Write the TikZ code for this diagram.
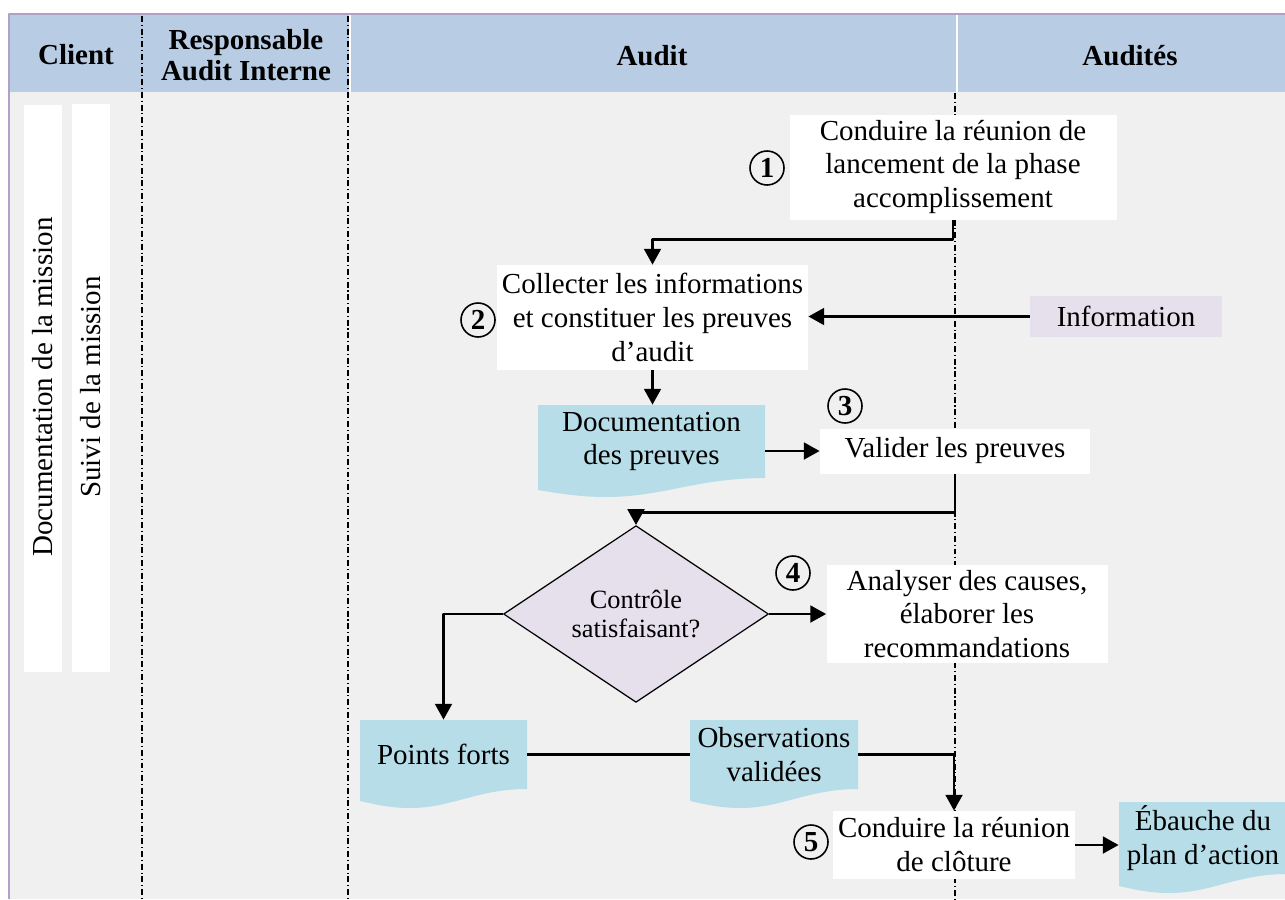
\documentclass[tikz,border=0pt]{standalone}
\usepackage{fontspec}
\setmainfont{Liberation Serif}
\usetikzlibrary{arrows.meta,shapes.geometric}

% document shape with a wavy bottom edge
\newcommand{\docshape}[4]{%
\begin{scope}[shift={(#1,#2)}]
\path[fill=docblue]
({-#3/2},{#4/2}) -- ({#3/2},{#4/2}) -- ({#3/2},{-#4/2})
.. controls ({0.2*#3},{-#4/2}) and ({0.05*#3},{-#4/2-0.38}) .. ({-0.2*#3},{-#4/2-0.38})
.. controls ({-0.32*#3},{-#4/2-0.38}) and ({-0.42*#3},{-#4/2-0.30}) .. ({-#3/2},{-#4/2-0.24})
-- cycle;
\end{scope}
}

\begin{document}
\begin{tikzpicture}[
    every node/.style={font=\fontsize{16.5}{19.3}\selectfont},
    line join=round,
    taskbox/.style={fill=white, align=center, inner sep=0pt},
    docbox/.style={align=center, inner sep=0pt},
    numcirc/.style={circle, draw=black, line width=0.9pt, minimum size=0.68cm,
        inner sep=0pt, font=\fontsize{16.5}{19.3}\selectfont\bfseries},
    headtext/.style={align=center, font=\fontsize{16.5}{17.8}\selectfont\bfseries},
    lane/.style={line width=0.9pt, dash pattern=on 3.4pt off 1.6pt on 0.6pt off 1.6pt},
    flow/.style={line width=1.6pt, -{Triangle[width=9.5pt,length=9pt]}}
]

% Colors
\definecolor{headblue}{RGB}{184,204,228}
\definecolor{bodygray}{RGB}{240,240,240}
\definecolor{framepurple}{RGB}{178,161,199}
\definecolor{docblue}{RGB}{183,221,232}
\definecolor{lavender}{RGB}{229,224,236}

\useasboundingbox (0,0) rectangle (25.7,-17.98);

% ----------------------------------------------------
% Swimlane frame and header
% ----------------------------------------------------
\fill[bodygray] (0.18,-1.84) rectangle (25.7,-17.98);
\fill[headblue] (0.18,-0.28) rectangle (25.7,-1.84);
\draw[white, line width=1.2pt] (7.0,-0.3) -- (7.0,-1.84);
\draw[white, line width=1.4pt] (19.14,-0.3) -- (19.14,-1.84);

\draw[framepurple, line width=1.5pt] (0.18,-17.98) -- (0.18,-0.28) -- (25.7,-0.28);

\draw[lane] (2.84,-0.32) -- (2.84,-17.98);
\draw[lane] (6.96,-0.32) -- (6.96,-17.98);
\draw[lane] (19.10,-1.86) -- (19.10,-17.98);

\node[headtext] (hclient) at (1.52,-1.10) {Client};
\node[headtext] (hresp) at (4.92,-1.10) {Responsable\\Audit Interne};
\node[headtext] (haudit) at (13.04,-1.12) {Audit};
\node[headtext] (haudites) at (22.6,-1.12) {Audités};

% ----------------------------------------------------
% Client column bars
% ----------------------------------------------------
\fill[white] (0.48,-2.10) rectangle (1.24,-13.44);
\fill[white] (1.44,-2.08) rectangle (2.20,-13.44);
\node[rotate=90] (bardoc) at (0.86,-7.74) {Documentation de la mission};
\node[rotate=90] (barsuivi) at (1.82,-7.74) {Suivi de la mission};

% ----------------------------------------------------
% Documents
% ----------------------------------------------------
\docshape{13.03}{-8.83}{4.54}{1.46}
\docshape{8.87}{-15.09}{3.34}{1.38}
\docshape{15.48}{-15.09}{3.36}{1.38}
\docshape{24.06}{-16.76}{3.36}{1.44}

\node[docbox, minimum width=4.54cm, minimum height=1.46cm] (docpreuves) at (13.03,-8.83)
    {Documentation\\des preuves};
\node[docbox, minimum width=3.34cm, minimum height=1.38cm] (forts) at (8.87,-15.09)
    {Points forts};
\node[docbox, minimum width=3.36cm, minimum height=1.38cm] (observ) at (15.48,-15.09)
    {Observations\\validées};
\node[docbox, minimum width=3.36cm, minimum height=1.44cm] (ebauche) at (24.06,-16.76)
    {Ébauche du\\plan d’action};

% ----------------------------------------------------
% Process steps
% ----------------------------------------------------
\node[taskbox, minimum width=6.54cm, minimum height=2.1cm] (launch) at (19.06,-3.34)
    {Conduire la réunion de\\lancement de la phase\\accomplissement};
\node[taskbox, minimum width=6.22cm, minimum height=2.1cm] (collect) at (13.05,-6.35)
    {Collecter les informations\\et constituer les preuves\\d’audit};
\node[fill=lavender, minimum width=3.84cm, minimum height=0.82cm, inner sep=0pt] (info) at (22.52,-6.33)
    {Information};
\node[taskbox, minimum width=5.4cm, minimum height=0.9cm] (validate) at (19.10,-9.02)
    {Valider les preuves};
\node[diamond, draw=black, line width=0.7pt, fill=lavender, minimum width=5.3cm, minimum height=2.56cm,
    inner sep=0pt, align=center, font=\fontsize{15}{16.6}\selectfont] (decision) at (12.72,-12.28)
    {Contrôle\\satisfaisant?};
\node[taskbox, minimum width=5.62cm, minimum height=1.96cm] (analyse) at (19.34,-12.28)
    {Analyser des causes,\\élaborer les\\recommandations};
\node[taskbox, minimum width=4.84cm, minimum height=1.36cm] (closing) at (19.08,-16.90)
    {Conduire la réunion\\de clôture};

% step numbers
\node[numcirc] (n1) at (15.34,-3.36) {1};
\node[numcirc] (n2) at (9.56,-6.40) {2};
\node[numcirc] (n3) at (16.90,-8.12) {3};
\node[numcirc] (n4) at (15.86,-11.46) {4};
\node[numcirc] (n5) at (16.22,-16.84) {5};

% ----------------------------------------------------
% Connectors
% ----------------------------------------------------
\draw[flow] (launch.south) -- ++(0,-0.4) -| (collect.north);
\draw[flow] (info.west) -- (info.west -| collect.east);
\draw[flow] (collect.south) -- (collect.south |- docpreuves.north);
\draw[flow] (docpreuves.east |- validate.west) -- (validate.west);
\draw[flow] (validate.south) -- ++(0,-0.78) -| (decision.north);
\draw[flow] (decision.east) -- (analyse.west);
\draw[flow] (decision.west) -| (forts.north);
\draw[line width=1.6pt] (forts.east) -- (forts.east -| observ.west);
\draw[flow] (observ.east) -| (closing.north);
\draw[flow] (closing.east) -- (closing.east -| ebauche.west);

\end{tikzpicture}
\end{document}
